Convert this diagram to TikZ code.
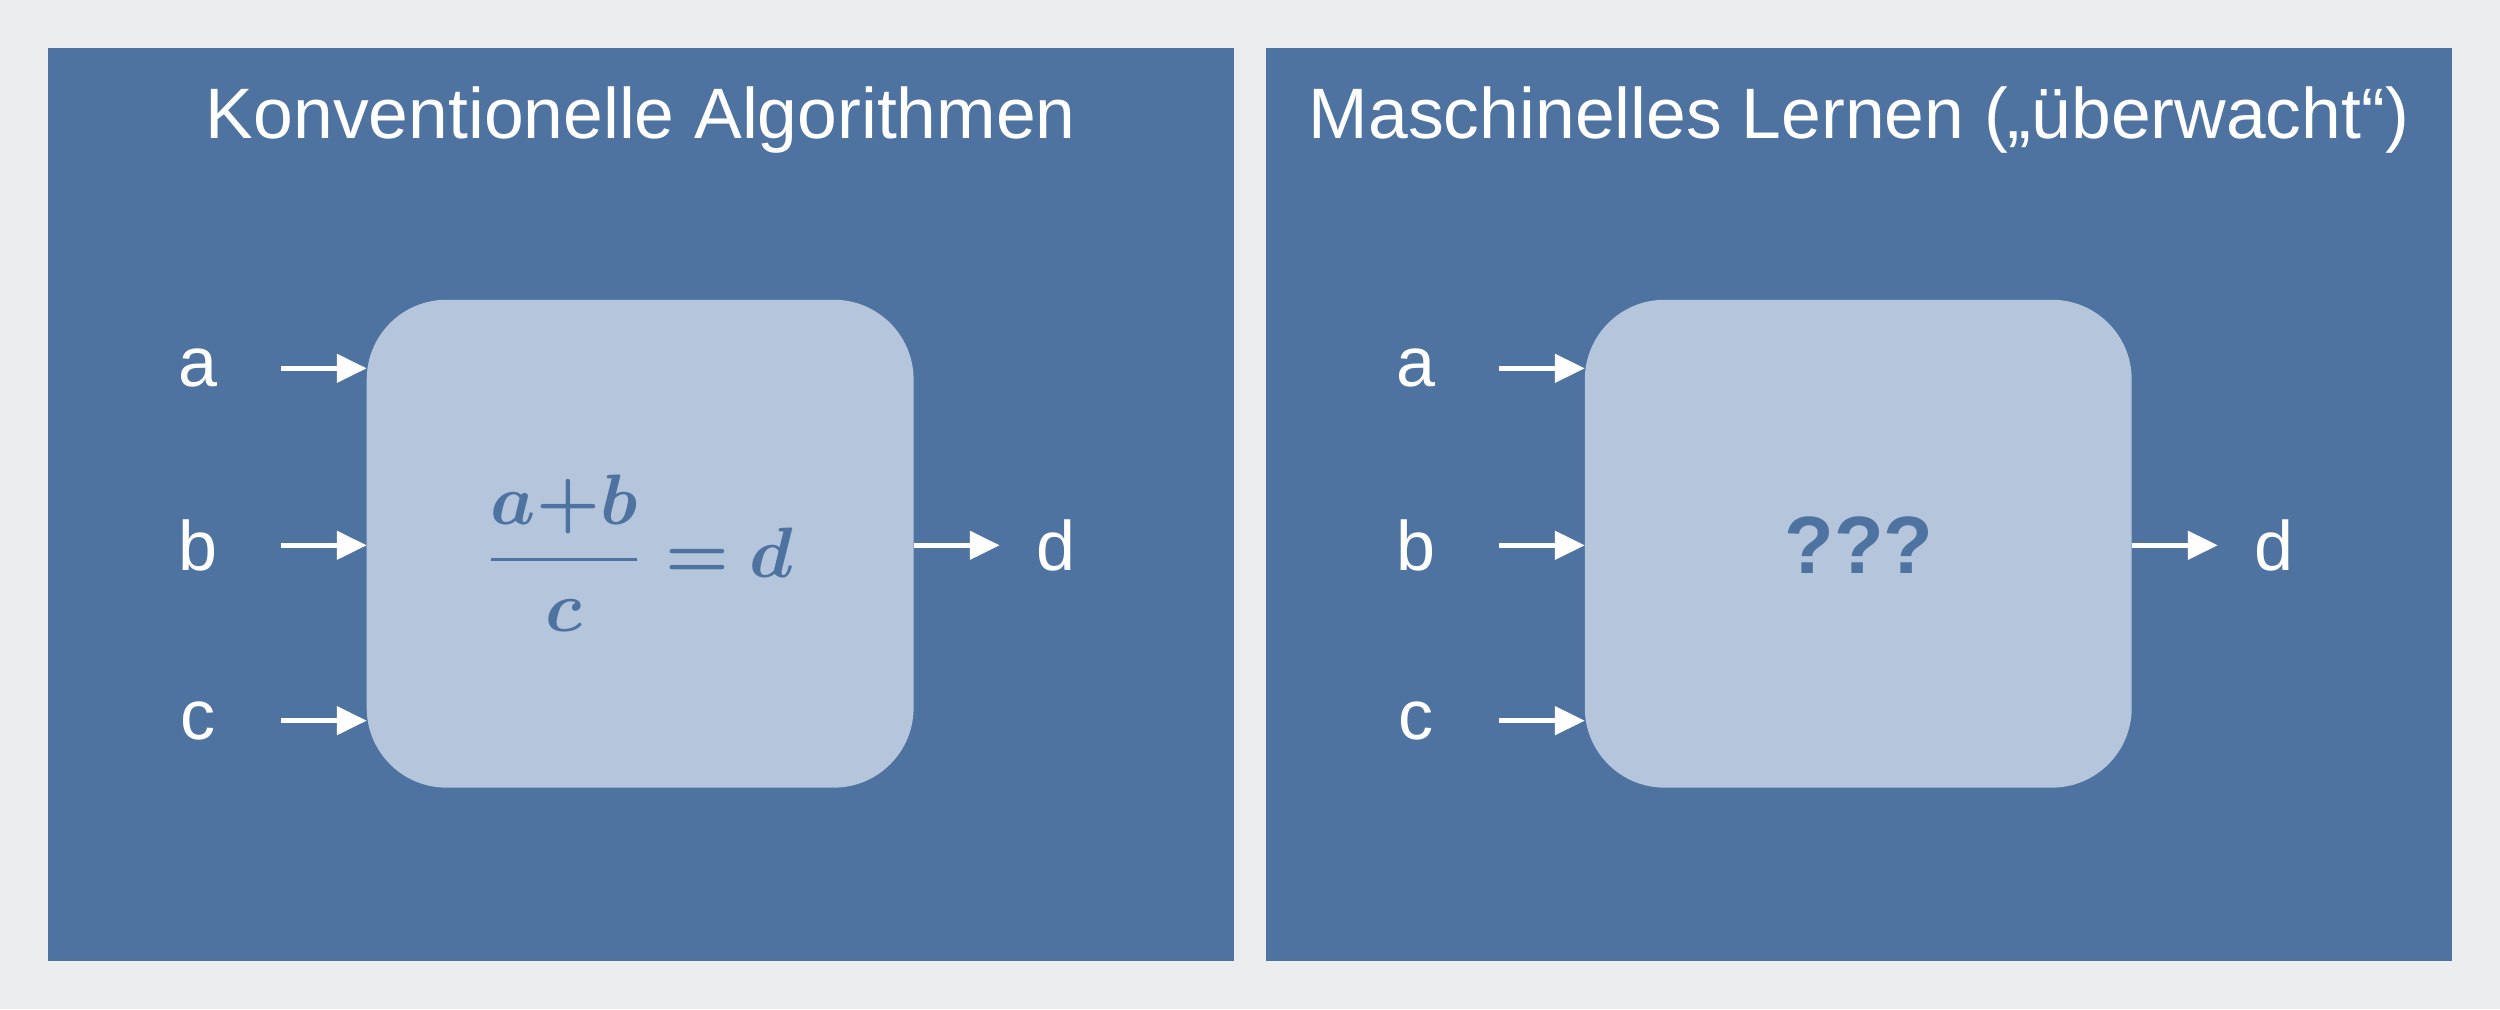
\documentclass[tikz,border=0pt]{standalone}
\usepackage{fontspec}
\usepackage{amsmath,bm}
\setmainfont{Liberation Sans}
\usetikzlibrary{arrows.meta}
\definecolor{bg}{HTML}{ECEDEF}
\definecolor{panel}{HTML}{4E73A0}
\definecolor{boxc}{HTML}{B4C5DC}
\tikzset{
 panelbox/.style={fill=panel,draw=none},
 fbox/.style={fill=boxc,draw=none,rounded corners=2cm},
 title/.style={text=white,font=\fontsize{51}{60}\selectfont},
 lab/.style={text=white,font=\fontsize{50}{60}\selectfont},
 arr/.style={draw=white,line width=3.5pt,-{Triangle[length=0.75cm,width=0.7cm]}}
}
\begin{document}
\begin{tikzpicture}[x=0.04cm,y=-0.04cm]
\fill[bg] (0,0) rectangle (1568,633);
\useasboundingbox (0,0) rectangle (1568,633);
\foreach \ox/\nm in {0/L,764/R}{
 \fill[panelbox] (30+\ox,30) rectangle (774+\ox,603);
 \fill[fbox] (230+\ox,188) rectangle (573+\ox,494);
 \coordinate (ia\nm) at (176+\ox,231); \coordinate (ea\nm) at (230+\ox,231);
 \coordinate (ib\nm) at (176+\ox,342); \coordinate (eb\nm) at (230+\ox,342);
 \coordinate (ic\nm) at (176+\ox,452); \coordinate (ec\nm) at (230+\ox,452);
 \coordinate (od\nm) at (573+\ox,342); \coordinate (ed\nm) at (627+\ox,342);
 \node[lab] (a\nm) at (124+\ox,231) {a};
 \node[lab] (b\nm) at (124+\ox,342) {b};
 \node[lab] (c\nm) at (124+\ox,452) {c};
 \node[lab,anchor=west] (d\nm) at (647+\ox,342) {d};
 \draw[arr] (ia\nm) -- (ea\nm);
 \draw[arr] (ib\nm) -- (eb\nm);
 \draw[arr] (ic\nm) -- (ec\nm);
 \draw[arr] (od\nm) -- (ed\nm);
}
\node[title] (tL) at (402,75) {Konventionelle Algorithmen};
\node[title] (tR) at (1166,75) {Maschinelles Lernen („überwacht“)};
\node[text=panel,scale=5.1] (f) at (400,347)
 {$\displaystyle \bm{\frac{a{+}b}{c}=d}$};
\node[text=panel,font=\fontsize{58}{66}\selectfont\bfseries] (q) at (1166,342) {???};
\end{tikzpicture}
\end{document}
